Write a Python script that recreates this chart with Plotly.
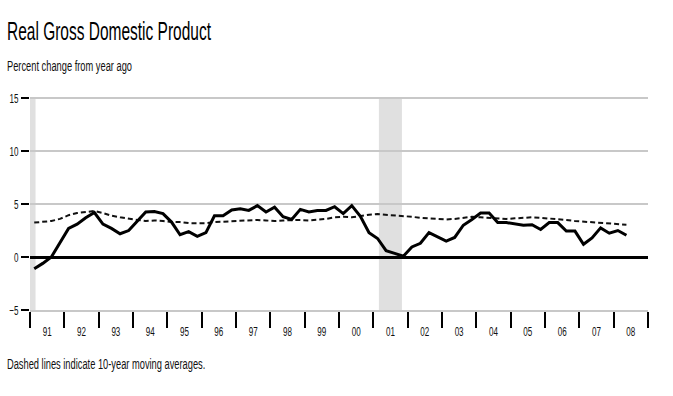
import pandas as pd
import plotly.graph_objects as go

# ---- data ----
quarters = pd.period_range("1991Q1", "2008Q2", freq="Q")
gdp_yoy = [
    -1.1, -0.6, 0.0, 1.3,
    2.7, 3.1, 3.7, 4.2,
    3.1, 2.7, 2.2, 2.5,
    3.35, 4.25, 4.3, 4.1,
    3.3, 2.1, 2.4, 1.95,
    2.3, 3.9, 3.9, 4.45,
    4.55, 4.4, 4.85, 4.25,
    4.7, 3.8, 3.55, 4.5,
    4.25, 4.4, 4.4, 4.75,
    4.1, 4.85, 3.85, 2.3,
    1.75, 0.6, 0.35, 0.08,
    0.95, 1.3, 2.3, 1.9,
    1.5, 1.85, 3.0, 3.55,
    4.15, 4.15, 3.25, 3.25,
    3.15, 3.0, 3.05, 2.6,
    3.25, 3.25, 2.45, 2.45,
    1.2, 1.8, 2.75, 2.25,
    2.5, 2.05,
]
moving_avg_10y = [
    3.25, 3.35, 3.4, 3.6,
    3.95, 4.15, 4.25, 4.35,
    4.15, 3.9, 3.75, 3.6,
    3.5, 3.4, 3.45, 3.4,
    3.3, 3.3, 3.2, 3.2,
    3.2, 3.3, 3.35, 3.4,
    3.4, 3.45, 3.5, 3.45,
    3.4, 3.45, 3.5, 3.5,
    3.45, 3.5, 3.6, 3.75,
    3.8, 3.75, 3.9, 4.0,
    4.05, 4.0, 3.95, 3.85,
    3.8, 3.7, 3.65, 3.6,
    3.55, 3.6, 3.7, 3.8,
    3.75, 3.7, 3.65, 3.6,
    3.65, 3.7, 3.75, 3.7,
    3.65, 3.6, 3.5, 3.4,
    3.35, 3.3, 3.25, 3.2,
    3.15, 3.05,
]
recession_start = ["1991-01-01", "2001-03-01"]
recession_end = ["1991-03-01", "2001-11-01"]
y_ticks = [-5, 0, 5, 10, 15]
x_start, x_end = "1991-01-01", "2009-01-01"

# mid-quarter dates
dates = [(p.start_time + (p.end_time - p.start_time) / 2) for p in quarters]

FONT = "Liberation Sans, Arial, sans-serif"

fig = go.Figure()
fig.add_trace(go.Scatter(
    x=dates, y=moving_avg_10y, mode="lines",
    line=dict(color="#111111", width=2, dash="5px,3px"),
    hoverinfo="skip", showlegend=False,
))
fig.add_trace(go.Scatter(
    x=dates, y=gdp_yoy, mode="lines",
    line=dict(color="#000000", width=3),
    showlegend=False,
))

for s, e in zip(recession_start, recession_end):
    fig.add_shape(type="rect", xref="x", yref="y", x0=s, x1=e,
                  y0=y_ticks[0], y1=y_ticks[-1],
                  fillcolor="#e0e0e0", line_width=0, layer="below")

fig.update_layout(
    width=673, height=396,
    margin=dict(l=30, r=25, t=96, b=86),
    paper_bgcolor="white", plot_bgcolor="white",
    font=dict(family=FONT, color="#111111"),
    title=dict(text="Real Gross Domestic Product", x=7 / 673, xanchor="left",
               xref="container", y=1 - 31.7 / 396, yanchor="middle",
               font=dict(size=25, family=FONT, color="#000000")),
    annotations=[
        dict(text="Percent change from year ago", xref="paper", yref="paper",
             x=(5 - 30) / 618, y=(310 - 65) / 214, xanchor="left", yanchor="middle",
             align="left", showarrow=False,
             font=dict(size=15, family=FONT, color="#111111")),
        dict(text="Dashed lines indicate 10-year moving averages.", xref="paper", yref="paper",
             x=(5 - 30) / 618, y=(310 - 363) / 214, xanchor="left", yanchor="middle",
             align="left", showarrow=False,
             font=dict(size=15, family=FONT, color="#111111")),
    ],
)
fig.update_xaxes(
    type="date", range=[x_start, x_end], automargin=False,
    tick0=x_start, dtick="M12", tickformat="%y", ticklabelmode="period",
    ticks="outside", ticklen=16, tickwidth=2, tickcolor="#000000",
    ticklabelstandoff=-8,
    showgrid=False, zeroline=False,
    showline=True, linecolor="#c8c8c8", linewidth=2,
    tickfont=dict(size=13, family=FONT, color="#111111"),
)
fig.update_yaxes(
    range=[-5, 15.2], tickvals=y_ticks, automargin=False,
    ticks="outside", ticklen=8, tickwidth=2, tickcolor="#000000",
    showgrid=True, gridcolor="#c8c8c8", gridwidth=2,
    zeroline=True, zerolinecolor="#000000", zerolinewidth=2.5,
    showline=False,
    tickfont=dict(size=13, family=FONT, color="#111111"),
)

post = """
document.body.style.margin = '0';
var gd = document.getElementById('{plot_id}');
var S = 0.62;
gd.querySelectorAll('svg text').forEach(function(t){
  if (t.getAttribute('data-sq')) return;
  var x = parseFloat(t.getAttribute('x')) || 0;
  var tr = t.getAttribute('transform') || '';
  t.setAttribute('transform', tr + ' translate(' + x + ',0) scale(' + S + ',1) translate(' + (-x) + ',0)');
  t.setAttribute('data-sq', '1');
});
"""

fig.write_html("out.html", post_script=post, config={"displayModeBar": False})
